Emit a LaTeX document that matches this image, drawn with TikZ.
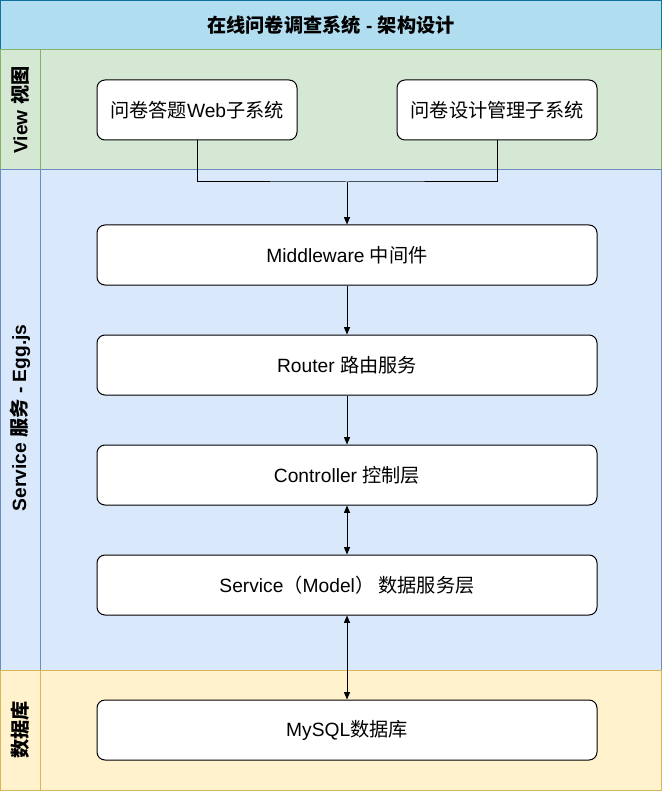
\documentclass[tikz,border=0pt]{standalone}
\usepackage{fontspec}
\setmainfont{Liberation Sans}
\newfontfamily\cjk{Noto Sans CJK SC}
\usetikzlibrary{arrows.meta}
\definecolor{hdrfill}{HTML}{B1DDF0}
\definecolor{hdrline}{HTML}{10739E}
\definecolor{viewfill}{HTML}{D5E8D4}
\definecolor{viewline}{HTML}{82B366}
\definecolor{svcfill}{HTML}{DAE8FC}
\definecolor{svcline}{HTML}{6C8EBF}
\definecolor{dbfill}{HTML}{FFF2CC}
\definecolor{dbline}{HTML}{D6B656}
\begin{document}
\begin{tikzpicture}[x=0.75pt,y=-0.75pt,
  box/.style={draw=black,fill=white,rounded corners=6pt,line width=0.75pt,
    minimum height=45pt,inner sep=0pt,font=\fontsize{14.4}{17}\selectfont},
  smallbox/.style={box,minimum width=150pt},
  widebox/.style={box,minimum width=375pt},
  band/.style={line width=0.75pt},
  lane/.style={rotate=90,font=\fontsize{14.4}{17}\selectfont\bfseries},
  conn/.style={line width=0.75pt,draw=black},
  arr/.style={conn,-{Triangle[length=5.5pt,width=4.5pt]}},
  darr/.style={conn,{Triangle[length=5.5pt,width=4.5pt]}-{Triangle[length=5.5pt,width=4.5pt]}}
]
\useasboundingbox (0,0) rectangle (662,791);
% bands
\path[band,fill=hdrfill,draw=hdrline] (0.5,0.5) rectangle (661.5,50);
\path[band,fill=viewfill,draw=viewline] (0.5,50) rectangle (661.5,170);
\path[band,fill=svcfill,draw=svcline] (0.5,170) rectangle (661.5,670);
\path[band,fill=dbfill,draw=dbline] (0.5,670) rectangle (661.5,790.5);
\draw[band,viewline] (40,50) -- (40,170);
\draw[band,svcline] (40,170) -- (40,670);
\draw[band,dbline] (40,670) -- (40,790.5);
% labels
\node[font=\fontsize{14.4}{17}\selectfont\bfseries] (title) at (331,25) {{\cjk\bfseries 在线问卷调查系统} - {\cjk\bfseries 架构设计}};
\node[lane] (lview) at (20,110) {View {\cjk\bfseries 视图}};
\node[lane] (lsvc) at (20,418) {Service {\cjk\bfseries 服务} - Egg.js};
\node[lane] (ldb) at (20,730) {{\cjk\bfseries 数据库}};
% boxes
\node[smallbox] (web) at (197,110) {{\cjk 问卷答题}Web{\cjk 子系统}};
\node[smallbox] (design) at (497,110) {{\cjk 问卷设计管理子系统}};
\node[widebox] (mw) at (347,255) {Middleware {\cjk 中间件}};
\node[widebox] (router) at (347,365) {Router {\cjk 路由服务}};
\node[widebox] (ctrl) at (347,475) {Controller {\cjk 控制层}};
\node[widebox] (svc) at (347,585) {Service{\cjk （}Model{\cjk ）\ 数据服务层}};
\node[widebox] (db) at (347,730) {MySQL{\cjk 数据库}};
% connectors
\coordinate (junc) at (347,182);
\draw[conn] (web.south) |- (junc) -| (design.south);
\draw[arr] (junc) -- (mw.north);
\draw[arr] (mw.south) -- (router.north);
\draw[arr] (router.south) -- (ctrl.north);
\draw[darr] (ctrl.south) -- (svc.north);
\draw[darr] (svc.south) -- (db.north);
\end{tikzpicture}
\end{document}
